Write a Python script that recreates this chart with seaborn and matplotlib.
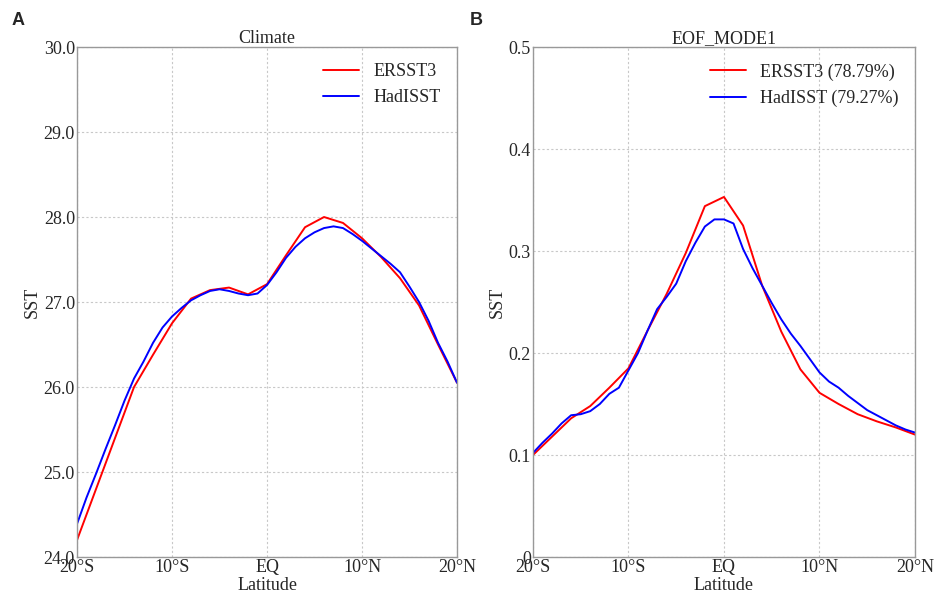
import numpy as np
import pandas as pd
import matplotlib
matplotlib.use("Agg")
import matplotlib.pyplot as plt
import seaborn as sns

# ---- data ----
lat2 = [-20, -18, -16, -14, -12, -10, -8, -6, -4, -2, 0, 2, 4, 6, 8, 10, 12, 14, 16, 18, 20]
lat1 = list(range(-20, 21))

clim_ersst = [24.2, 24.8, 25.4, 26.0, 26.38, 26.75, 27.04, 27.14, 27.17, 27.09, 27.21,
              27.55, 27.88, 28.0, 27.93, 27.75, 27.53, 27.28, 26.96, 26.5, 26.05]
clim_had = [24.39, 24.7, 24.98, 25.27, 25.55, 25.84, 26.1, 26.3, 26.52, 26.7, 26.83,
            26.93, 27.02, 27.08, 27.13, 27.15, 27.13, 27.1, 27.08, 27.1, 27.2,
            27.35, 27.52, 27.65, 27.75, 27.82, 27.87, 27.89, 27.87, 27.8, 27.72,
            27.63, 27.54, 27.45, 27.35, 27.18, 27.0, 26.78, 26.52, 26.3, 26.05]

eof_ersst = [0.100, 0.118, 0.136, 0.148, 0.166, 0.185, 0.222, 0.258, 0.298, 0.344, 0.353,
             0.325, 0.266, 0.221, 0.184, 0.161, 0.150, 0.140, 0.133, 0.127, 0.120]
eof_had = [0.102, 0.112, 0.121, 0.131, 0.139, 0.140, 0.143, 0.150, 0.160, 0.166, 0.183,
           0.200, 0.222, 0.243, 0.255, 0.268, 0.290, 0.308, 0.324, 0.331, 0.331,
           0.327, 0.302, 0.283, 0.266, 0.249, 0.233, 0.219, 0.207, 0.194, 0.181,
           0.172, 0.166, 0.158, 0.151, 0.144, 0.139, 0.134, 0.129, 0.125, 0.122]

xticks = [-20, -10, 0, 10, 20]
xticklabels = ["20°S", "10°S", "EQ", "10°N", "20°N"]
clim_yticks = [24, 25, 26, 27, 28, 29, 30]
clim_yticklabels = ["24.0", "25.0", "26.0", "27.0", "28.0", "29.0", "30.0"]
eof_yticks = [0, 0.1, 0.2, 0.3, 0.4, 0.5]
eof_yticklabels = ["0", "0.1", "0.2", "0.3", "0.4", "0.5"]

sns.set_style("whitegrid")
plt.rcParams["font.family"] = ["Liberation Serif", "DejaVu Serif"]

fig = plt.figure(figsize=(9.35, 5.93), dpi=100)
ax1 = fig.add_axes([0.0824, 0.0607, 0.4064, 0.860])
ax2 = fig.add_axes([0.5700, 0.0607, 0.4086, 0.860])

df1 = pd.concat([
    pd.DataFrame({"lat": lat2, "val": clim_ersst, "src": "ERSST3"}),
    pd.DataFrame({"lat": lat1, "val": clim_had, "src": "HadISST"}),
])
df2 = pd.concat([
    pd.DataFrame({"lat": lat2, "val": eof_ersst, "src": "ERSST3 (78.79%)"}),
    pd.DataFrame({"lat": lat1, "val": eof_had, "src": "HadISST (79.27%)"}),
])

sns.lineplot(data=df1, x="lat", y="val", hue="src", palette=["#ff0000", "#0000ff"],
             linewidth=1.4, ax=ax1)
sns.lineplot(data=df2, x="lat", y="val", hue="src", palette=["#ff0000", "#0000ff"],
             linewidth=1.4, ax=ax2)

fs = 13
for ax, title, yt, ytl, ylim in [
    (ax1, "Climate", clim_yticks, clim_yticklabels, (24, 30)),
    (ax2, "EOF_MODE1", eof_yticks, eof_yticklabels, (0, 0.5)),
]:
    ax.set_xlim(-20, 20)
    ax.set_ylim(*ylim)
    ax.set_xticks(xticks)
    ax.set_xticklabels(xticklabels, fontsize=fs)
    ax.set_yticks(yt)
    ax.set_yticklabels(ytl, fontsize=fs)
    ax.set_xlabel("Latitude", fontsize=fs, labelpad=1)
    ax.set_ylabel("SST", fontsize=fs, labelpad=2)
    ax.set_title(title, fontsize=fs, pad=3)
    ax.tick_params(axis="both", length=0, pad=1.5)
    ax.grid(True, linestyle=(0, (2, 2)), color="#c8c8c8", linewidth=0.8)
    for s in ax.spines.values():
        s.set_color("#999999")
        s.set_linewidth(1.0)
    leg = ax.legend(loc="upper right", frameon=False, fontsize=fs, handlelength=2.0,
                    borderaxespad=0.5, labelspacing=0.5, handletextpad=0.8)
    leg.set_title(None)

fig.text(0.012, 0.965, "A", fontsize=13, fontweight="bold",
         family=["Liberation Sans", "DejaVu Sans"], va="center")
fig.text(0.502, 0.965, "B", fontsize=13, fontweight="bold",
         family=["Liberation Sans", "DejaVu Sans"], va="center")

fig.savefig("out.png", dpi=100)
